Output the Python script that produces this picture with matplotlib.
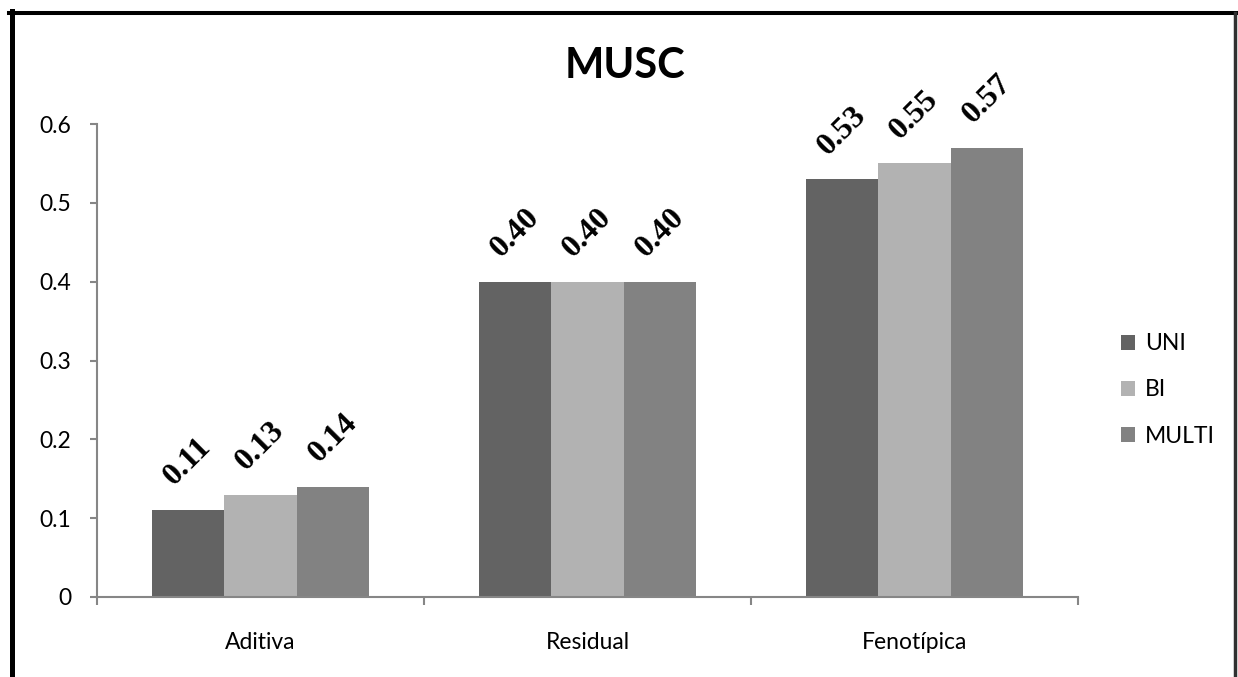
#musc.py

import numpy as np
import matplotlib.pyplot as plt
from matplotlib.patches import Patch
from matplotlib.lines import Line2D

categorias = ['Aditiva', 'Residual', 'Fenotípica']
series = ['UNI', 'BI', 'MULTI']
uni = [0.11, 0.40, 0.53]
bi = [0.13, 0.40, 0.55]
multi = [0.14, 0.40, 0.57]
yticks = [0, 0.1, 0.2, 0.3, 0.4, 0.5, 0.6]

colores = ['#636363', '#b2b2b2', '#828282']
fuente = 'Lato'

fig = plt.figure(figsize=(12.38, 6.77), dpi=100)
ax = fig.add_axes([0.0784, 0.1182, 0.7924, 0.6986])

x = np.arange(len(categorias))
ancho = 0.222
for i, valores in enumerate([uni, bi, multi]):
    barras = ax.bar(x + (i - 1) * ancho, valores, width=ancho, color=colores[i],
                    label=series[i], zorder=2)
    # etiquetas giradas sobre cada barra
    for b, v in zip(barras, valores):
        ax.annotate(f'{v:.2f}', (b.get_x() + b.get_width() / 2, v),
                    xytext=(0, 35), textcoords='offset points',
                    ha='center', va='center', rotation=45,
                    family='Liberation Serif', weight='bold', fontsize=23)

ax.set_xlim(-0.5, 2.5)
ax.set_ylim(0, 0.6)
ax.set_yticks(yticks)
ax.set_yticklabels(['0' if t == 0 else f'{t:.1f}' for t in yticks],
                   family=fuente, fontsize=16.5)
ax.set_xticks(x)
ax.set_xticklabels(categorias, family=fuente, fontsize=16.5)
ax.set_xticks([-0.5, 0.5, 1.5, 2.5], minor=True)

gris = '#868686'
for lado in ['top', 'right']:
    ax.spines[lado].set_visible(False)
for lado in ['left', 'bottom']:
    ax.spines[lado].set_color(gris)
    ax.spines[lado].set_linewidth(1.5)
ax.tick_params(axis='y', direction='out', length=5, width=1.5, color=gris, pad=13.5)
ax.tick_params(axis='x', which='major', length=0, pad=25)
ax.tick_params(axis='x', which='minor', direction='out', length=6, width=1.5, color=gris)

fig.text(625 / 1238, 1 - 78 / 677, 'MUSC', ha='center', va='baseline',
         family=fuente, weight='bold', fontsize=30)

handles = [Patch(facecolor=c, edgecolor='none') for c in colores]
fig.legend(handles, series, loc='center left', bbox_to_anchor=(1121 / 1238, 1 - 390 / 677),
           frameon=False, borderpad=0, borderaxespad=0, handlelength=0.61, handleheight=0.61,
           handletextpad=0.44, labelspacing=1.1, prop={'family': fuente, 'size': 16.5})

# marco del grafico
W, H = 1238, 677
fig.add_artist(Line2D([11.5 / W, 11.5 / W], [0, 1 - 11 / H], color='black', lw=3.6))
fig.add_artist(Line2D([9 / W, 1237 / W], [1 - 13 / H, 1 - 13 / H], color='black', lw=2.9))
fig.add_artist(Line2D([1235 / W, 1235 / W], [0, 1 - 13 / H], color='#303030', lw=2.5))

plt.savefig('out.png', dpi=100)
